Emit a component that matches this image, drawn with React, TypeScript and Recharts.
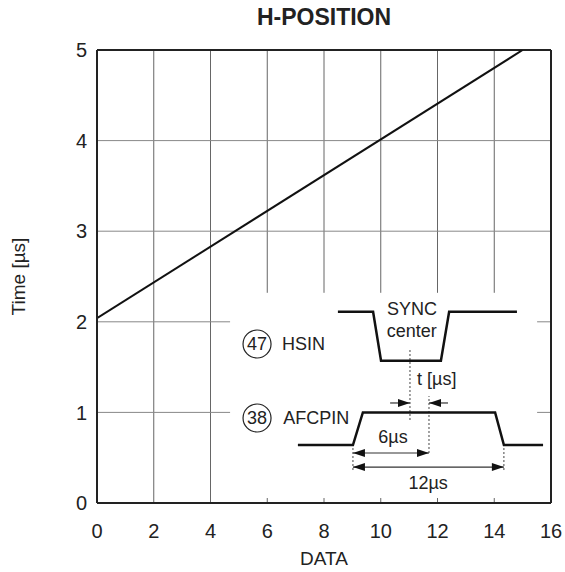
import React from 'react';
import { ComposedChart, Line, XAxis, YAxis, ReferenceLine, ReferenceDot } from 'recharts';

const FONT = '"Liberation Sans", Arial, Helvetica, sans-serif';

// main characteristic
const mainX = [0, 15];
const mainY = [2.04, 5];

// axis ticks
const xTicks = [0, 2, 4, 6, 8, 10, 12, 14, 16];
const yTicks = [0, 1, 2, 3, 4, 5];

// inset waveforms (in chart units)
const hsinX = [8.49, 9.73, 10.01, 12.12, 12.41, 14.8];
const hsinY = [2.11, 2.11, 1.57, 1.57, 2.11, 2.11];
const afcX = [7.08, 9.02, 9.37, 14.03, 14.34, 15.72];
const afcY = [0.64, 0.64, 1.0, 1.0, 0.64, 0.64];

// dimension lines [x1, y1, x2, y2]
const dimSolid = [
  [10.33, 1.104, 11.03, 1.104],
  [11.7, 1.104, 12.37, 1.104],
  [9.02, 0.552, 11.7, 0.552],
  [9.02, 0.397, 14.34, 0.397],
];
const dimDotted = [
  [11.03, 0.916, 11.03, 1.7],
  [11.7, 0.552, 11.7, 1.18],
  [9.02, 0.364, 9.02, 0.64],
  [14.34, 0.364, 14.34, 0.64],
];

// arrowheads: tip x, tip y, direction (1 = right, -1 = left)
const arrowX = [11.03, 11.7, 9.02, 11.7, 9.02, 14.34];
const arrowY = [1.104, 1.104, 0.552, 0.552, 0.397, 0.397];
const arrowDir = [1, -1, -1, 1, -1, 1];

// inset texts
const textLabels = ['SYNC', 'center', 'HSIN', 'AFCPIN', 't [µs]', '6µs', '12µs'];
const textX = [11.1, 11.09, 6.52, 6.56, 11.28, 10.43, 11.67];
const textY = [2.141, 1.898, 1.755, 0.938, 1.369, 0.728, 0.221];
const textAnchor = ['middle', 'middle', 'start', 'start', 'start', 'middle', 'middle'];

// circled pin numbers
const pinLabels = ['47', '38'];
const pinX = [5.64, 5.64];
const pinY = [1.755, 0.938];

// region of the inset where grid is cleared
const GAP = { x1: 4.69, x2: 15.51, y1: 0.055, y2: 2.32 };

const mainData = mainX.map((x, i) => ({ x, y: mainY[i] }));
const hsinData = hsinX.map((x, i) => ({ x, y: hsinY[i] }));
const afcData = afcX.map((x, i) => ({ x, y: afcY[i] }));

const VGRID = '#666';
const HGRID = '#888';
const AXIS = '#222';

const gridSegments: { seg: [number, number, number, number]; color: string }[] = [];
xTicks.slice(1, -1).forEach((x) => {
  if (x > GAP.x1 && x < GAP.x2) {
    gridSegments.push({ seg: [x, 0, x, GAP.y1], color: VGRID });
    gridSegments.push({ seg: [x, GAP.y2, x, 5], color: VGRID });
  } else {
    gridSegments.push({ seg: [x, 0, x, 5], color: VGRID });
  }
});
yTicks.slice(1, -1).forEach((y) => {
  if (y > GAP.y1 && y < GAP.y2) {
    gridSegments.push({ seg: [0, y, GAP.x1, y], color: HGRID });
    gridSegments.push({ seg: [GAP.x2, y, 16, y], color: HGRID });
  } else {
    gridSegments.push({ seg: [0, y, 16, y], color: HGRID });
  }
});

const arrowShape = (dir: number) => (p: any) => {
  const { cx, cy } = p;
  const L = 12;
  const H = 4;
  return (
    <polygon
      points={`${cx},${cy} ${cx - dir * L},${cy - H} ${cx - dir * L},${cy + H}`}
      fill="#111"
      stroke="none"
    />
  );
};

const textShape = (label: string, anchor: string) => (p: any) => (
  <text
    x={p.cx}
    y={p.cy}
    textAnchor={anchor as any}
    dominantBaseline="central"
    fontFamily={FONT}
    fontSize={18}
    fill="#222"
  >
    {label}
  </text>
);

const pinShape = (label: string) => (p: any) => (
  <g>
    <circle cx={p.cx} cy={p.cy} r={14} fill="#fff" stroke="#222" strokeWidth={1.2} />
    <text
      x={p.cx}
      y={p.cy}
      textAnchor="middle"
      dominantBaseline="central"
      fontFamily={FONT}
      fontSize={18}
      fill="#222"
    >
      {label}
    </text>
  </g>
);

const TitleLabel = (props: any) => {
  const vb = props.viewBox || {};
  return (
    <text
      x={vb.x + vb.width / 2}
      y={vb.y - 33}
      textAnchor="middle"
      dominantBaseline="central"
      fontFamily={FONT}
      fontSize={23}
      fontWeight="bold"
      fill="#222"
    >
      H-POSITION
    </text>
  );
};

const XLabel = (props: any) => {
  const vb = props.viewBox || {};
  return (
    <text
      x={vb.x + vb.width / 2}
      y={vb.y + 55}
      textAnchor="middle"
      dominantBaseline="central"
      fontFamily={FONT}
      fontSize={19}
      fill="#222"
    >
      DATA
    </text>
  );
};

const YLabel = (props: any) => {
  const vb = props.viewBox || {};
  const cx = 18;
  const cy = vb.y + vb.height / 2;
  return (
    <text
      x={cx}
      y={cy}
      transform={`rotate(-90 ${cx} ${cy})`}
      textAnchor="middle"
      dominantBaseline="central"
      fontFamily={FONT}
      fontSize={19}
      fill="#222"
    >
      Time [µs]
    </text>
  );
};

export default function App() {
  return (
    <div style={{ position: 'fixed', left: 0, top: 0, width: 565, height: 572, overflow: 'hidden', background: '#fff' }}>
      <ComposedChart width={565} height={572} margin={{ top: 50, right: 14, bottom: 29, left: 37 }}>
        <XAxis
          type="number"
          dataKey="x"
          domain={[0, 16]}
          ticks={xTicks}
          allowDataOverflow
          height={40}
          stroke={AXIS}
          strokeWidth={2}
          tickLine={false}
          tickSize={8}
          tickMargin={13}
          interval={0}
          tick={{ fill: '#222', fontSize: 20, fontFamily: FONT }}
          label={XLabel}
        />
        <YAxis
          type="number"
          domain={[0, 5]}
          ticks={yTicks}
          allowDataOverflow
          width={60}
          stroke={AXIS}
          strokeWidth={2}
          tickLine={false}
          tickSize={8}
          tickMargin={2}
          interval={0}
          tick={{ fill: '#222', fontSize: 20, fontFamily: FONT }}
          label={YLabel}
        />
        {gridSegments.map((g, i) => (
          <ReferenceLine
            key={`g${i}`}
            segment={[
              { x: g.seg[0], y: g.seg[1] },
              { x: g.seg[2], y: g.seg[3] },
            ]}
            stroke={g.color}
            strokeWidth={1}
          />
        ))}
        <ReferenceLine y={5} stroke={AXIS} strokeWidth={2} label={TitleLabel} />
        <ReferenceLine x={16} stroke={AXIS} strokeWidth={2} />
        {dimSolid.map((d, i) => (
          <ReferenceLine
            key={`ds${i}`}
            segment={[
              { x: d[0], y: d[1] },
              { x: d[2], y: d[3] },
            ]}
            stroke="#333"
            strokeWidth={1.2}
          />
        ))}
        {dimDotted.map((d, i) => (
          <ReferenceLine
            key={`dd${i}`}
            segment={[
              { x: d[0], y: d[1] },
              { x: d[2], y: d[3] },
            ]}
            stroke="#444"
            strokeWidth={1}
            strokeDasharray="2 2"
          />
        ))}
        <Line data={mainData} dataKey="y" stroke="#111" strokeWidth={2} dot={false} isAnimationActive={false} />
        <Line data={hsinData} dataKey="y" stroke="#111" strokeWidth={2.5} dot={false} isAnimationActive={false} />
        <Line data={afcData} dataKey="y" stroke="#111" strokeWidth={2.5} dot={false} isAnimationActive={false} />
        {arrowX.map((x, i) => (
          <ReferenceDot key={`a${i}`} x={x} y={arrowY[i]} r={1} shape={arrowShape(arrowDir[i])} />
        ))}
        {textLabels.map((t, i) => (
          <ReferenceDot key={`t${i}`} x={textX[i]} y={textY[i]} r={1} shape={textShape(t, textAnchor[i])} />
        ))}
        {pinLabels.map((t, i) => (
          <ReferenceDot key={`p${i}`} x={pinX[i]} y={pinY[i]} r={14} shape={pinShape(t)} />
        ))}
      </ComposedChart>
    </div>
  );
}
